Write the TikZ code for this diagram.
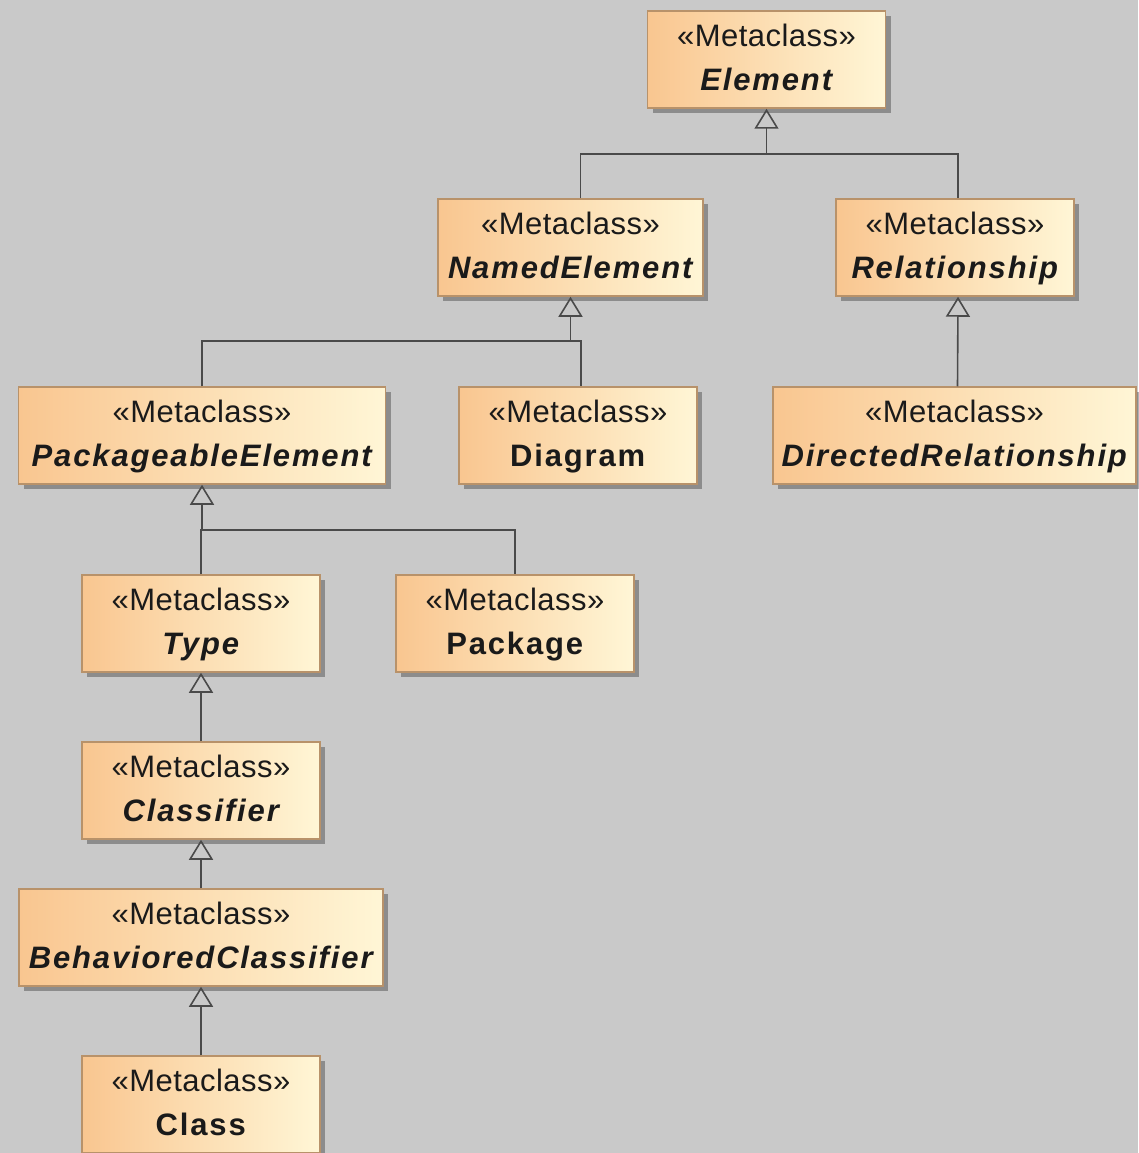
\documentclass[tikz,border=0pt]{standalone}
\usepackage{fontspec}
\setmainfont{Liberation Sans}
\newfontfamily\namefont[LetterSpace=6]{Liberation Sans}
\newfontfamily\stereofont[LetterSpace=1.5]{Liberation Sans}
\usetikzlibrary{arrows.meta,shadows}
\definecolor{MetaBack}{HTML}{C9C9C9}
\definecolor{MetaLeft}{HTML}{F9C690}
\definecolor{MetaRight}{HTML}{FFF6D6}
\definecolor{MetaBorder}{HTML}{B8926A}
\definecolor{MetaLine}{HTML}{4A4A4A}
\definecolor{MetaText}{HTML}{1A1A1A}
\newcommand{\metaname}[2][\itshape]{\strut{\stereofont «Metaclass»}\\\kern-11pt{\namefont\bfseries#1 #2}\strut}
\tikzset{
  metaclass/.style={draw=MetaBorder, line width=1.5pt, left color=MetaLeft,
                    right color=MetaRight, align=center, inner sep=0pt,
                    minimum height=97pt, minimum width=238pt, text=MetaText,
                    drop shadow={shadow xshift=5pt, shadow yshift=-5pt,
                                 opacity=0.3, fill=black}},
  wide/.style={metaclass, minimum width=366pt},
  link/.style={draw=MetaLine, line width=1.6pt},
  gen/.style={link, -{Triangle[open, length=20pt, width=24pt]}}
}

\begin{document}
\begin{tikzpicture}[x=1pt, y=-1pt, font=\fontsize{31}{44}\selectfont]
  \fill[MetaBack] (0,0) rectangle (1138,1153);
  \useasboundingbox (0,0) rectangle (1138,1153);
  % metaclasses
  \node[metaclass] (element) at (766.5,59.5) {\metaname{Element}};
  \node[metaclass, minimum width=265pt] (named) at (570.5,247.5) {\metaname{NamedElement}};
  \node[metaclass] (rel) at (955,247.5) {\metaname{Relationship}};
  \node[wide, minimum width=367pt] (pkgel) at (202,435.5) {\metaname{PackageableElement}};
  \node[metaclass] (diagram) at (578,435.5) {\metaname[\upshape]{Diagram}};
  \node[wide, minimum width=363pt] (dirrel) at (954.5,435.5) {\metaname{DirectedRelationship}};
  \node[metaclass] (type) at (201,623.5) {\metaname{Type}};
  \node[metaclass] (package) at (515,623.5) {\metaname[\upshape]{Package}};
  \node[metaclass] (classifier) at (201,790.5) {\metaname{Classifier}};
  \node[wide, minimum width=364pt] (behav) at (201,937.5) {\metaname{BehavioredClassifier}};
  \node[metaclass] (class) at (201,1104.5) {\metaname[\upshape]{Class}};
  % generalizations
  \coordinate (j1) at ([yshift=-45pt]element.south);
  \draw[link] ([xshift=10pt]named.north) |- (j1) -| ([xshift=3pt]rel.north);
  \draw[gen] (j1) -- (element.south);
  \coordinate (j2) at ([yshift=-44pt]named.south);
  \draw[link] (pkgel.north) |- ([xshift=3pt]diagram.north |- j2) -- ([xshift=3pt]diagram.north);
  \draw[gen] (j2) -- (named.south);
  \draw[gen] ([xshift=3pt]dirrel.north) -- ([xshift=3pt]rel.south);
  \coordinate (j3) at ([yshift=-45pt]pkgel.south);
  \draw[link] (type.north) |- (j3) -| (package.north);
  \draw[gen] (j3) -- (pkgel.south);
  \draw[gen] (classifier.north) -- (type.south);
  \draw[gen] (behav.north) -- (classifier.south);
  \draw[gen] (class.north) -- (behav.south);
\end{tikzpicture}
\end{document}
